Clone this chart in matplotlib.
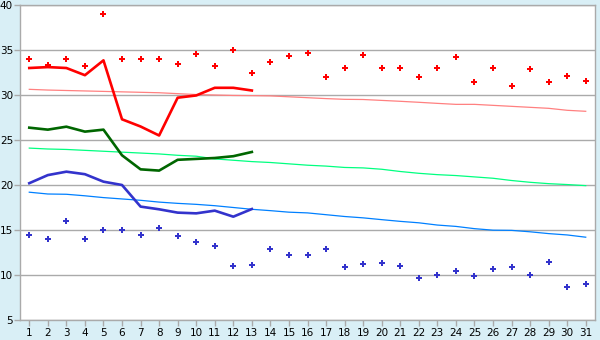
import matplotlib
matplotlib.use("Agg")
import matplotlib.pyplot as plt

days = list(range(1, 32))

red_pts = [34, 33.3, 34, 33.2, 39, 34, 34, 34, 33.4, 34.6,
           33.2, 35, 32.5, 33.7, 34.3, 34.7, 32, 33, 34.5, 33,
           33, 32, 33, 34.2, 31.5, 33, 31, 32.85, 31.4, 32.1, 31.6]
red_line = [33, 33.1, 33, 32.2, 33.85, 27.3, 26.5, 25.5, 29.7, 29.95,
            30.8, 30.8, 30.5]
red_trend = [30.63, 30.55, 30.5, 30.45, 30.4, 30.35, 30.3, 30.25, 30.15, 30.05,
             30.0, 29.95, 29.93, 29.9, 29.8, 29.7, 29.6, 29.52, 29.5, 29.4,
             29.3, 29.19, 29.07, 28.96, 28.96, 28.85, 28.74, 28.63, 28.52, 28.3, 28.19]

green_line = [26.37, 26.15, 26.48, 25.93, 26.15, 23.3, 21.74, 21.6, 22.8, 22.9,
              23.0, 23.2, 23.67]
green_trend = [24.1, 24.0, 23.95, 23.85, 23.75, 23.65, 23.55, 23.45, 23.3, 23.2,
               22.9, 22.75, 22.6, 22.5, 22.35, 22.2, 22.1, 21.95, 21.9, 21.75,
               21.5, 21.3, 21.15, 21.05, 20.9, 20.75, 20.5, 20.3, 20.15, 20.05, 19.93]

blue_pts = [14.41, 13.96, 15.96, 13.96, 14.96, 14.96, 14.41, 15.19, 14.3, 13.63,
            13.19, 10.96, 11.07, 12.85, 12.19, 12.19, 12.85, 10.85, 11.19, 11.3,
            10.96, 9.63, 9.96, 10.41, 9.85, 10.63, 10.85, 9.96, 11.41, 8.63, 8.96]
blue_line = [20.2, 21.1, 21.48, 21.2, 20.37, 20.0, 17.6, 17.3, 16.93, 16.85,
             17.15, 16.48, 17.33]
blue_trend = [19.2, 19.0, 18.97, 18.8, 18.6, 18.45, 18.3, 18.1, 17.96, 17.85,
              17.7, 17.5, 17.3, 17.15, 16.98, 16.9, 16.7, 16.5, 16.35, 16.15,
              15.96, 15.8, 15.55, 15.4, 15.15, 14.98, 14.96, 14.8, 14.6, 14.45, 14.2]

bg = "#d9eff6"
grid_c = "#aaaaaa"

fig = plt.figure(figsize=(6, 3.4), dpi=100, facecolor=bg)
ax = fig.add_axes([20 / 600, 20 / 340, 575 / 600, 315 / 340])
ax.set_facecolor("white")

for y in range(5, 41, 5):
    ax.axhline(y, color=grid_c, lw=1, zorder=1)

# trend lines
ax.plot(days, red_trend, color="#ff8080", lw=0.9, zorder=2)
ax.plot(days, green_trend, color="#00ff80", lw=0.9, zorder=2)
ax.plot(days, blue_trend, color="#0080ff", lw=0.9, zorder=2)

n = len(red_line)
ax.plot(days[:n], red_line, color="#ff0000", lw=1.9, zorder=3)
ax.plot(days[:n], green_line, color="#006600", lw=1.9, zorder=3)
ax.plot(days[:n], blue_line, color="#3333cc", lw=1.9, zorder=3)

ax.plot(days, red_pts, ls="none", marker="P", ms=5, color="#ff0000", mew=0, zorder=4)
ax.plot(days, blue_pts, ls="none", marker="P", ms=5, color="#3333cc", mew=0, zorder=4)

ax.set_xlim(0.5, 31.5)
ax.set_ylim(5, 40)
ax.set_xticks(days)
ax.set_yticks(range(5, 41, 5))
ax.tick_params(axis="both", colors=grid_c, labelcolor="black", labelsize=7.5,
               length=4, width=1)
ax.tick_params(axis="y", pad=1)
ax.tick_params(axis="x", pad=2)
for s in ["left", "bottom", "right", "top"]:
    ax.spines[s].set_color(grid_c)
    ax.spines[s].set_linewidth(1)

fig.savefig("out.png", dpi=100, facecolor=bg)
